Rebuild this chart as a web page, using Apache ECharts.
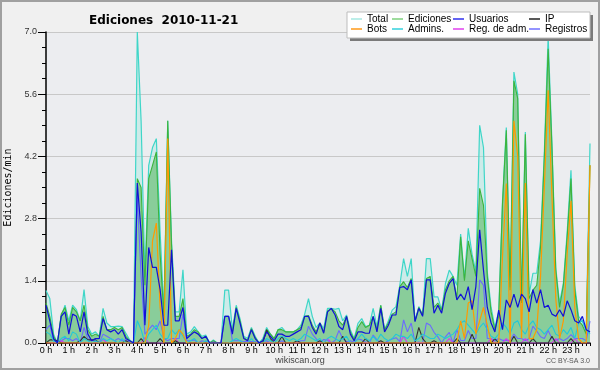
<!DOCTYPE html>
<html><head><meta charset="utf-8">
<script src="https://cdn.jsdelivr.net/npm/echarts@6/dist/echarts.min.js"></script>
<style>html,body{margin:0;padding:0;background:#f0f0f0}#c{width:600px;height:370px}</style>
</head><body><div id="c"></div>
<script>
const hourLabels = ['0 h','1 h','2 h','3 h','4 h','5 h','6 h','7 h','8 h','9 h','10 h','11 h','12 h','13 h','14 h','15 h','16 h','17 h','18 h','19 h','20 h','21 h','22 h','23 h'];
const minuteSteps = ['00','10','20','30','40','50'];
const yTicks = [0, 1.4, 2.8, 4.2, 5.6, 7.0];

const total = [
1.18,1.0,0.2,0.0,0.6,0.85,
0.5,0.85,0.75,0.5,1.2,0.37,
0.2,0.25,0.15,0.78,0.45,0.37,
0.37,0.38,0.37,0.22,0.07,0.0,
7.0,5.0,1.5,4.0,4.4,4.6,
2.5,0.7,5.0,2.3,0.7,0.7,
1.65,0.2,0.25,0.37,0.25,0.15,
0.18,0.0,0.07,0.0,0.0,1.19,
1.19,0.3,0.85,0.55,0.15,0.1,
0.35,0.15,0.0,0.1,0.35,0.2,
0.1,0.3,0.35,0.25,0.25,0.25,
0.3,0.4,0.65,1.0,0.6,0.35,
0.45,0.33,0.78,0.78,0.76,0.78,
0.5,0.63,0.3,0.1,0.44,0.55,
0.37,0.4,0.78,0.37,0.85,0.3,
0.5,0.74,0.82,1.3,1.9,1.5,
1.9,0.5,0.82,0.63,1.9,1.9,
1.04,1.04,0.74,1.34,1.64,1.5,
1.3,2.45,1.45,2.58,2.0,1.6,
4.9,4.4,1.6,0.8,0.35,0.7,
3.2,4.85,1.25,6.1,5.6,1.0,
4.75,1.1,1.57,1.57,2.3,4.3,
6.9,4.5,1.7,0.9,1.35,2.5,
3.89,1.3,0.6,0.5,0.25,4.49
];
const ediciones = [
0.9,0.6,0.15,0.0,0.65,0.8,
0.4,0.8,0.7,0.5,0.85,0.3,
0.15,0.2,0.15,0.6,0.3,0.3,
0.35,0.3,0.35,0.15,0.05,0.0,
3.7,3.5,1.3,3.7,4.0,4.3,
2.0,0.6,5.0,2.2,0.6,0.6,
1.0,0.15,0.2,0.3,0.25,0.1,
0.15,0.0,0.05,0.0,0.0,0.6,
0.6,0.25,0.8,0.5,0.12,0.06,
0.32,0.12,0.0,0.06,0.3,0.2,
0.1,0.3,0.3,0.25,0.25,0.25,
0.3,0.35,0.6,0.62,0.4,0.25,
0.45,0.25,0.72,0.78,0.7,0.5,
0.4,0.6,0.25,0.08,0.35,0.48,
0.35,0.4,0.6,0.3,0.85,0.3,
0.45,0.65,0.7,1.27,1.38,1.25,
1.45,0.5,0.8,0.63,1.45,1.5,
0.8,0.9,0.74,1.2,1.4,1.5,
1.0,2.39,1.4,2.3,1.9,1.5,
3.48,3.1,1.5,0.7,0.3,0.6,
3.14,4.79,1.19,5.9,5.5,0.9,
4.7,1.0,1.19,1.3,2.16,4.2,
6.62,4.4,1.64,0.8,1.3,2.4,
3.7,1.2,0.5,0.4,0.2,4.0
];
const usuarios = [
0.85,0.5,0.1,0.0,0.6,0.7,
0.2,0.65,0.6,0.25,0.7,0.2,
0.05,0.1,0.1,0.55,0.3,0.25,
0.3,0.2,0.3,0.1,0.05,0.0,
3.6,2.5,0.4,2.15,1.7,1.7,
1.2,0.4,0.4,2.1,0.5,0.5,
0.8,0.1,0.18,0.25,0.2,0.1,
0.15,0.0,0.0,0.0,0.0,0.6,
0.6,0.2,0.78,0.45,0.1,0.05,
0.3,0.1,0.0,0.05,0.25,0.15,
0.05,0.2,0.2,0.15,0.15,0.2,
0.25,0.3,0.6,0.6,0.35,0.2,
0.45,0.22,0.7,0.78,0.63,0.37,
0.3,0.6,0.2,0.05,0.25,0.25,
0.22,0.22,0.6,0.25,0.78,0.25,
0.4,0.63,0.63,1.25,1.27,1.2,
1.42,0.48,0.78,0.6,1.42,1.42,
0.67,0.85,0.67,1.12,1.34,1.45,
0.97,1.1,0.97,1.27,0.75,1.27,
2.55,1.64,0.8,0.45,0.25,0.74,
0.3,0.97,0.8,1.1,0.8,1.1,
1.0,0.7,1.2,0.9,1.2,0.8,
0.85,0.65,0.6,0.75,0.6,0.95,
0.75,0.5,0.45,0.6,0.3,0.25
];
const ip = [
0,0.07,0.07,0.05,0,0,
0,0,0,0.05,0.15,0.07,
0.07,0.07,0,0,0,0,
0,0,0,0.05,0,0,
0,0.1,0,0,0,0,
0.1,0,0,0,0.05,0,
0,0,0,0,0,0,
0,0,0,0,0,0,
0,0,0,0,0,0,
0,0,0,0,0.3,0.1,
0,0,0.15,0,0,0,
0.05,0,0,0,0,0,
0.05,0,0,0,0,0,
0.15,0,0,0,0,0,
0.1,0,0,0,0.05,0,
0,0,0,0,0,0,
0,0,0.35,0.1,0,0,
0.05,0,0,0,0,0,
0.1,0,0,0,0.2,0,
0,0,0,0,0.1,0,
0,0,0,0.15,0,0,
0,0,0.1,0,0,0,
0,0.15,0,0,0,0,
0.1,0,0,0,0,0
];
const bots = [
0,0,0,0,0,0,
0,0,0,0,0,0,
0,0,0,0,0,0,
0,0,0,0,0,0,
0,0,0,0.4,2.3,2.7,
0.8,0,4.6,0,0.1,0.3,
0.2,0,0,0,0,0,
0,0,0,0,0,0,
0,0,0,0,0,0,
0,0,0,0,0,0,
0,0,0,0,0,0,
0,0,0,0,0,0,
0,0,0,0,0,0,
0,0,0,0,0,0,
0,0,0,0,0,0,
0,0,0,0,0,0,
0,0,0,0,0,0,
0,0,0,0,0,0,
0,0.5,0.1,0.9,0.95,0.2,
0.5,0.8,0.4,0,0,0,
1.94,3.59,0,5.0,4.2,0.1,
3.6,0.1,0.1,0.3,1.5,3.5,
5.69,3.3,1.0,0.1,0.5,2.0,
3.2,0.8,0.1,0,0,4.0
];
const admins = [
0.25,0.2,0.05,0,0.1,0.15,
0.05,0.25,0.2,0,0.1,0.05,
0,0.05,0,0.1,0.05,0.1,
0.05,0,0.1,0,0,0,
0.5,0.3,0,0.2,0.3,0.4,
0.2,0.1,0.1,0.3,0.2,0.3,
0.15,0,0.05,0.1,0,0,
0.05,0,0,0,0,0,
0,0.05,0.1,0.05,0,0,
0.1,0,0,0,0.1,0.05,
0,0.1,0.15,0.1,0.05,0.1,
0.05,0.1,0.2,0.15,0.1,0.05,
0.1,0,0.1,0.15,0.1,0.05,
0.1,0.15,0,0,0.1,0.2,
0.1,0.05,0.15,0.05,0.2,0.1,
0.05,0.1,0.2,0.15,0.15,0.1,
0.2,0.05,0.1,0.2,0.15,0.1,
0.1,0.2,0.15,0.1,0.15,0.2,
0.3,0.45,0.5,0.4,0.3,0.2,
0.35,0.45,0.3,0.15,0.1,0.2,
0.45,0.35,0.2,0.45,0.5,0.3,
0.2,0.4,0.5,0.35,0.3,0.2,
0.3,0.4,0.2,0.15,0.3,0.2,
0.35,0.1,0.45,0.5,0.3,0.2
];
const regAdm = [
0,0,0,0,0.05,0,
0,0,0,0,0,0,
0,0,0,0.08,0,0,
0,0,0,0,0,0,
0,0,0.12,0,0,0,
0,0,0,0,0.1,0,
0,0,0,0,0,0,
0,0,0,0,0,0,
0,0,0,0,0,0,
0,0,0,0,0,0,
0,0,0,0,0,0,
0,0,0,0,0,0,
0,0,0.1,0,0,0,
0,0,0,0,0,0,
0,0,0,0,0,0,
0,0,0,0,0.15,0,
0,0,0,0,0,0,
0,0,0,0,0.1,0,
0,0,0,0,0,0,
0,0,0,0.1,0,0,
0,0.1,0,0,0,0,
0.1,0,0,0,0,0,
0,0,0.1,0,0,0,
0,0.1,0,0,0,0
];
const registros = [
0.3,0.4,0.05,0,0.05,0.1,
0.1,0.05,0.1,0,0.35,0.1,
0.05,0.05,0,0.2,0.15,0.1,
0.05,0.1,0.05,0.07,0.02,0,
3.3,1.5,0.2,0.3,0.4,0.3,
0.5,0.1,0.05,0.1,0.1,0.1,
0.65,0.05,0.05,0.07,0,0.05,
0.03,0,0.02,0,0,0.6,
0.6,0.05,0.05,0.05,0.03,0.04,
0.03,0.03,0,0.04,0.05,0,
0,0,0.05,0,0,0,
0,0.05,0.05,0.38,0.2,0.1,
0,0.08,0.06,0,0.06,0.28,
0.1,0.03,0.05,0.02,0.09,0.07,
0.02,0,0.18,0.07,0,0,
0.05,0.09,0.12,0.03,0.52,0.25,
0.45,0,0.02,0,0.45,0.4,
0.24,0.14,0,0.14,0.24,0,
0.3,0.06,0.05,0.28,0.1,0.1,
1.42,1.3,0.1,0.1,0.05,0.1,
0.06,0.06,0.06,0.2,0.1,0.1,
0.05,0.1,0.38,0.27,0.14,0.1,
0.28,0.1,0.06,0.1,0.05,0.1,
0.19,0.1,0.1,0.1,0.05,0.49
];

const categories = [];
hourLabels.forEach((h, hi) => minuteSteps.forEach(m => categories.push(hi + ':' + m)));

const FONT = 'Liberation Sans';
function line(name, data, color, width, area, z) {
  const s = {
    name, type: 'line', data, symbol: 'none', z: z,
    lineStyle: { color, width },
    itemStyle: { color },
    emphasis: { disabled: true }
  };
  if (area) s.areaStyle = { color: area, opacity: 1 };
  return s;
}

const chart = echarts.init(document.getElementById('c'), null, { renderer: 'canvas' });
const legendCommon = {
  orient: 'vertical', icon: 'rect', itemWidth: 11, itemHeight: 1.5, itemGap: 0,
  padding: 0, selectedMode: false, z: 30,
  textStyle: { fontFamily: FONT, fontSize: 10, color: '#000', lineHeight: 10, padding: [0, 0, 0, 0] },
  top: 14
};
chart.setOption({
  animation: false,
  backgroundColor: '#f0f0f0',
  title: {
    text: 'Ediciones  2010-11-21', left: 84, top: 10,
    textStyle: { fontFamily: 'DejaVu Sans', fontWeight: 'bold', fontSize: 12, color: '#000' }
  },
  grid: { left: 46, right: 10, top: 32, bottom: 27, show: true, backgroundColor: '#ecedf0', borderWidth: 0, containLabel: false, outerBoundsMode: 'none' },
  legend: [
    Object.assign({ left: 351, data: [{ name: 'Total', itemStyle: { color: '#a6e8e2' } }, { name: 'Bots', itemStyle: { color: '#ff9a1a' } }] }, legendCommon),
    Object.assign({ left: 392, data: [{ name: 'Ediciones', itemStyle: { color: '#7ed07e' } }, { name: 'Admins.', itemStyle: { color: '#33d0dd' } }] }, legendCommon),
    Object.assign({ left: 453, data: [{ name: 'Usuarios', itemStyle: { color: '#3030ee' } }, { name: 'Reg. de adm.', itemStyle: { color: '#e040ee' } }] }, legendCommon),
    Object.assign({ left: 529, data: [{ name: 'IP', itemStyle: { color: '#222' } }, { name: 'Registros', itemStyle: { color: '#7070ff' } }] }, legendCommon)
  ],
  xAxis: {
    type: 'category', data: categories, boundaryGap: false,
    axisLine: { lineStyle: { color: '#000', width: 1.5 } },
    axisTick: { interval: 0, length: 3, lineStyle: { color: '#000' } },
    axisLabel: {
      interval: (idx) => idx % 6 === 0,
      formatter: (v, idx) => hourLabels[Math.floor(idx / 6)],
      fontFamily: FONT, fontSize: 9, color: '#000', margin: 3
    },
    splitLine: { show: false }
  },
  yAxis: {
    type: 'value', min: yTicks[0], max: yTicks[yTicks.length - 1], interval: 1.4,
    name: 'Ediciones/min', nameLocation: 'middle', nameRotate: 90, nameGap: 31,
    nameTextStyle: { fontFamily: 'DejaVu Sans Mono', fontSize: 10, color: '#000' },
    axisLine: { show: true, lineStyle: { color: '#000', width: 1.5 } },
    axisTick: { show: true, length: 8, lineStyle: { color: '#000' } },
    minorTick: { show: true, splitNumber: 4, length: 4, lineStyle: { color: '#000' } },
    axisLabel: { formatter: v => v.toFixed(1), fontFamily: FONT, fontSize: 9, color: '#333', margin: 9 },
    splitLine: { lineStyle: { color: '#c8c8c8', width: 1 } }
  },
  series: [
    line('Total', total, '#3fd6c8', 1.2, 'rgba(150,232,222,0.35)', 2),
    line('Ediciones', ediciones, '#3cb43c', 1.1, 'rgba(70,175,75,0.5)', 3),
    line('Registros', registros, '#6a6aff', 1.1, null, 4),
    line('Reg. de adm.', regAdm, '#dd33ee', 1.1, null, 4),
    line('IP', ip, '#333333', 1.1, null, 4),
    line('Admins.', admins, '#22c8d8', 1.1, null, 4),
    line('Bots', bots, '#ff9a00', 1.2, null, 5),
    line('Usuarios', usuarios, '#1010d8', 1.2, null, 6)
  ],
  graphic: [
    { type: 'rect', z: 20, shape: { x: 350, y: 15, width: 243, height: 26 }, style: { fill: '#7a7a7a' } },
    { type: 'rect', z: 21, shape: { x: 347, y: 12, width: 243, height: 26 }, style: { fill: '#ffffff', stroke: '#bdbdbd', lineWidth: 1 } },
    { type: 'text', z: 21, left: 'center', top: 356, style: { text: 'wikiscan.org', font: '9px "Liberation Sans"', fill: '#444' } },
    { type: 'text', z: 21, right: 10, top: 358, style: { text: 'CC BY-SA 3.0', font: '7px "Liberation Sans"', fill: '#555' } },
    { type: 'rect', z: 25, shape: { x: 1, y: 1, width: 598, height: 368 }, style: { fill: 'none', stroke: '#a0a0a0', lineWidth: 2 } }
  ]
});
</script>
</body></html>
